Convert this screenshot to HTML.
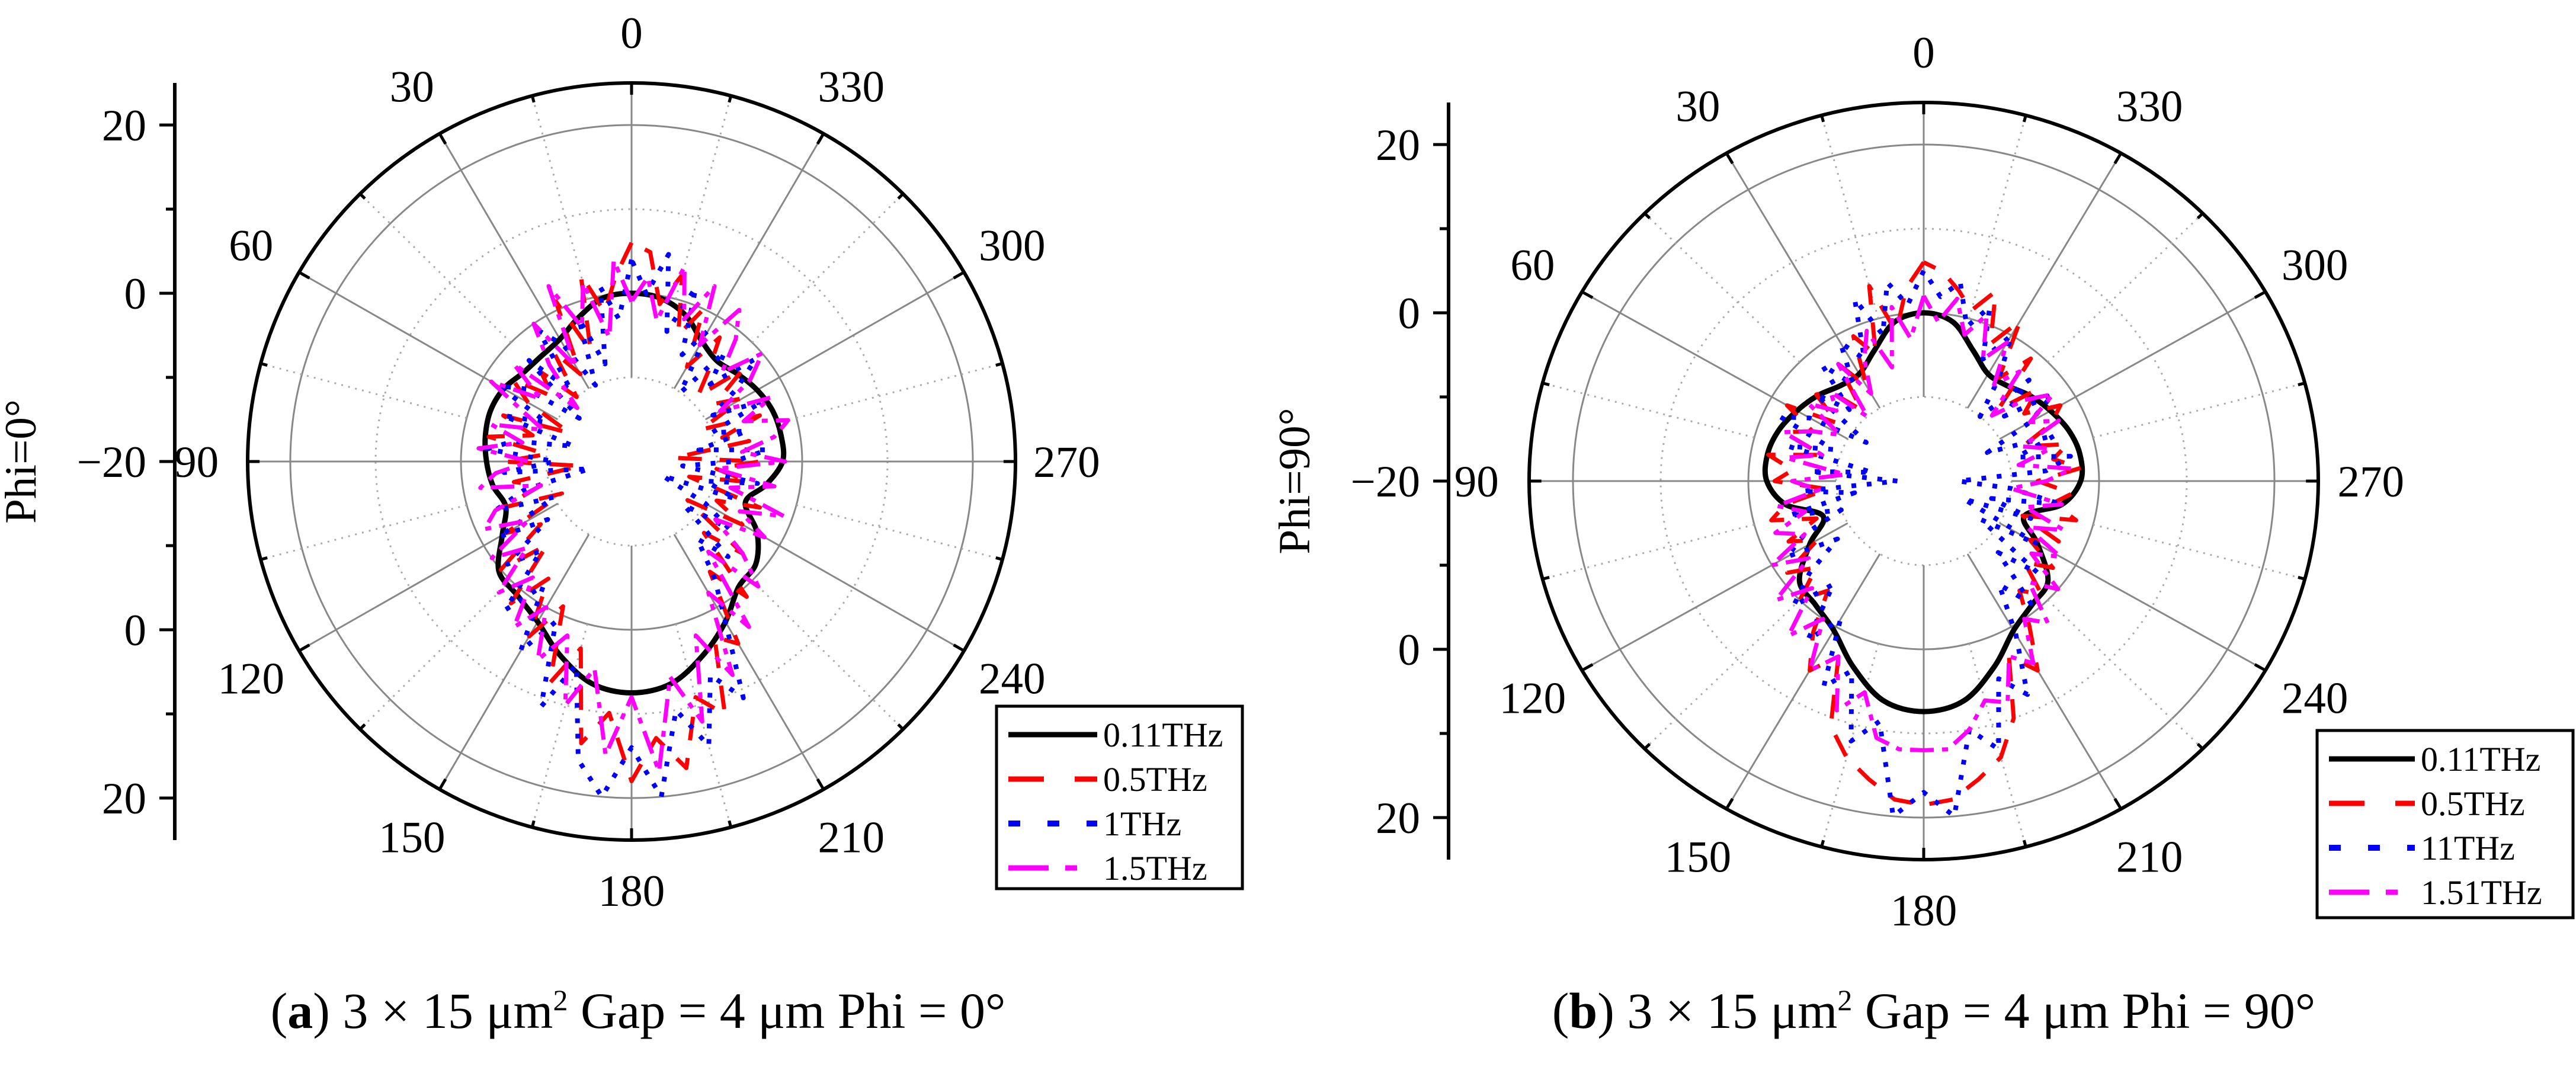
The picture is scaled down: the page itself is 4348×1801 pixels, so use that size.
<!DOCTYPE html>
<html><head><meta charset="utf-8">
<style>
html,body{margin:0;padding:0;background:#fff;}
svg{display:block;}
text{font-family:"Liberation Serif",serif;fill:#000;}
</style></head>
<body>
<svg id="fig" width="4348" height="1801" viewBox="0 0 4348 1801" xmlns="http://www.w3.org/2000/svg">
<g id="pa"></g>
<g id="pb"></g>
<text x="1077" y="1735" font-size="86" text-anchor="middle">(<tspan font-weight="bold">a</tspan>) 3 × 15 μm<tspan font-size="50" dy="-30">2</tspan><tspan dy="30"> Gap = 4 μm Phi = 0°</tspan></text>
<text x="3264" y="1735" font-size="86" text-anchor="middle">(<tspan font-weight="bold">b</tspan>) 3 × 15 μm<tspan font-size="50" dy="-30">2</tspan><tspan dy="30"> Gap = 4 μm Phi = 90°</tspan></text>
</svg>
<script>
// angles (deg, counter-clockwise from top) shared by all series
const anglesCoarse = [0,10,20,30,40,50,60,70,80,90,100,110,120,130,140,150,160,170,180,190,200,210,220,230,240,250,260,270,280,290,300,310,320,330,340,350];
const anglesFine = [0,5,10,15,20,25,30,35,40,45,50,55,60,65,70,75,80,85,90,95,100,105,110,115,120,125,130,135,140,145,150,155,160,165,170,175,180,185,190,195,200,205,210,215,220,225,230,235,240,245,250,255,260,265,270,275,280,285,290,295,300,305,310,315,320,325,330,335,340,345,350,355];
const radialTicks = [-20,0,20];
const angleLabels = [0,30,60,90,120,150,180,210,240,270,300,330];
const seriesNamesA = ["0.11THz","0.5THz","1THz","1.5THz"];
const seriesNamesB = ["0.11THz","0.5THz","11THz","1.51THz"];

const blackA = [0,-0.3,-1.8,-3.2,-3.6,-3.5,-2.7,-2.4,-2.6,-3.0,-3.5,-4.3,-2.5,0.3,0.8,2.0,4.5,6.8,7.5,6.8,4.5,2.0,-0.5,-1.0,-3.0,-5.8,-4.0,-2.3,-2.2,-2.4,-3.0,-3.8,-4.4,-3.5,-1.5,-0.3];
const redA = [6,2,-2,3,-6,1,-8,-4,-10,-5,-8,-3,-6,-12,-4,-8,-3,-10,-5,-14,-6,-9,-4,-11,-3,-7,0,-6,2,-3,4,-1,8,3,14,10,18,13,17,9,12,3,5,-4,1,-8,-3,-12,-5,-9,-4,-13,-6,-10,-5,-15,-6,-9,-4,-11,-5,-8,-3,-9,-6,-2,-7,0,-4,3,-1,5];
const blueA = [4,-3,1,-8,-2,-10,-4,-1,-9,-3,-12,-5,-2,-9,-4,-13,-6,-3,-11,-5,-15,-7,-3,-10,-2,-8,-1,-5,3,-2,6,1,11,5,16,20,14,20,10,15,7,11,2,-3,-8,-4,-12,-6,-10,-16,-7,-11,-5,-14,-8,-4,-12,-6,-10,-3,-9,-5,-1,-7,-3,-10,-2,-6,2,-4,5,0];
const magA = [-1,4,-5,2,-3,3,-7,0,-5,-11,-2,-7,-1,-6,-9,-3,-7,-2,-8,-4,-2,-9,-3,-1,-6,0,-4,2,-2,4,0,6,2,10,5,15,8,17,6,12,2,8,-2,4,-6,1,-3,-8,-2,-6,-1,-8,-3,-10,-2,-7,-3,-1,-6,-2,-8,-3,0,-5,-1,2,-4,3,-2,4,-3,2];

const blackB = [0,-0.8,-3.5,-5.3,-5.2,-4.2,-3.3,-2.4,-1.9,-2.1,-4.0,-7.8,-5.0,-1.5,-0.8,0.5,3.5,6.5,7.4,6.5,3.5,0.5,-0.8,-1.5,-5.0,-7.8,-4.0,-2.1,-1.9,-2.4,-3.3,-4.2,-5.2,-5.3,-3.5,-0.8];
const redB = [6,3,-2,4,-4,-1,-7,-3,-9,-5,-4,-8,-2,-6,-3,-8,-2,-5,-3,-9,-4,-2,-7,-3,-6,-1,-4,0,-3,2,6,3,11,14,16,18,18.5,18,16,14,10,3,6,1,-3,-1,-5,-2,-6,-3,-8,-2,-5,-3,-7,-2,-5,-3,-8,-4,-2,-6,-3,-8,-1,-5,2,-2,4,1,3,5];
const blueB = [5,1,4,-2,3,-4,-1,-6,-2,-8,-4,-12,-5,-2,-9,-4,-14,-7,-17,-6,-12,-4,-10,-5,-2,-8,-3,1,-4,3,-1,7,4,12,9,20,17,20,10,13,5,8,1,-5,-1,-8,-3,-12,-5,-15,-7,-12,-4,-10,-16,-6,-3,-9,-4,-12,-6,-2,-8,-3,-10,-5,0,-4,2,-1,4,2];
const magB = [2,-3,1,-6,-1,-4,-8,-3,-10,-5,-7,-4,-9,-6,-3,-8,-4,-11,-5,-8,-3,-6,-2,-5,0,-4,2,-2,4,0,6,3,9,6,11,12,12,12,10,7,8,3,5,0,2,-3,0,-5,-2,-7,-3,-8,-4,-10,-6,-3,-9,-5,-8,-3,-6,-2,-5,-9,-3,-6,-1,-4,1,-2,2,-1];

const NS="http://www.w3.org/2000/svg";
function mk(parent,tag,attrs){const e=document.createElementNS(NS,tag);for(const k in attrs)e.setAttribute(k,attrs[k]);parent.appendChild(e);return e;}

function drawPanel(g,cfg,names,blk,red,blue,mag){
  const cx=cfg.cx, cy=cfg.cy, sx=cfg.sx, sy=cfg.sy, rmin=-20;
  const px=(ang,v)=>{const r=Math.max(0,v-rmin);const a=ang*Math.PI/180;return [cx-Math.sin(a)*r*sx, cy-Math.cos(a)*r*sy];};
  // rings
  const rings=[[-10,'dot'],[0,'solid'],[10,'dot'],[20,'solid']];
  rings.forEach(([v,st])=>{
    const el=mk(g,'ellipse',{cx:cx,cy:cy,rx:(v-rmin)*sx,ry:(v-rmin)*sy,fill:'none',stroke:st==='dot'?'#aaa':'#888','stroke-width':st==='dot'?3:3,'stroke-dasharray':st==='dot'?'3 9':'none'});
    
    
  });
  // spokes
  for(let a=0;a<360;a+=15){
    const major=a%30===0;
    const p1=px(a,major?-10:0), p2=px(a,25);
    const el=mk(g,'line',{x1:p1[0],y1:p1[1],x2:p2[0],y2:p2[1],stroke:major?'#888':'#aaa','stroke-width':3,'stroke-dasharray':major?'none':'3 9'});
    
    
    const t1=px(a,25), t2=px(a,major?23.6:24.2);
    const tk=mk(g,'line',{x1:t1[0],y1:t1[1],x2:t2[0],y2:t2[1],stroke:'#000','stroke-width':5});
    
    
  }
  const outer=mk(g,'ellipse',{cx:cx,cy:cy,rx:45*sx,ry:45*sy,fill:'none',stroke:'#000','stroke-width':6});
  
  
  // angle labels
  angleLabels.forEach(a=>{
    const p=px(a,a%90===0?(a===0||a===180?31:31):31.5);
    const t=mk(g,'text',{x:p[0],y:p[1]+26,'font-size':75,'text-anchor':'middle'});
    t.textContent=a;
    
    
  });
  // radial axis
  const ax=cfg.axisX;
  const axl=mk(g,'line',{x1:ax,y1:cy-45*sy,x2:ax,y2:cy+45*sy,stroke:'#000','stroke-width':6});
  
  
  [-40,-30,-20,-10,0,10,20,30,40].forEach(d=>{
    const y=cy+d*sy; const major=d%20===0;
    const tk=mk(g,'line',{x1:ax-(major?26:15),y1:y,x2:ax,y2:y,stroke:'#000','stroke-width':5});
    
    
  });
  [-1,1].forEach(sgn=>{
    radialTicks.forEach(v=>{
      if(sgn===1&&v===rmin)return;
      const y=cy+sgn*(v-rmin)*sy;
      const t=mk(g,'text',{x:ax-48,y:y+26,'font-size':75,'text-anchor':'end'});
      t.textContent=v<0?'\u2212'+Math.abs(v):v;
      
      
    });
  });
  const yt=mk(g,'text',{x:0,y:0,'font-size':75,'text-anchor':'middle',transform:`translate(${cfg.titleX},${cy}) rotate(-90)`});
  yt.textContent=cfg.title;
  
  
  // series
  const specs=[
    [red,anglesFine,'#ff0000','40 30',7,'series-0.5thz'],
    [blue,anglesFine,'#0000ff','8 18',8,'series-1thz'],
    [mag,anglesFine,'#ff00ff','40 14 10 14',7,'series-1.5thz'],
  ];
  const addPath=(vals,angs,col,dash,w,name,smooth)=>{
    let d='';
    const n=angs.length;
    for(let i=0;i<=n;i++){
      const p=px(angs[i%n],vals[i%n]);
      d+=(i===0?'M':'L')+p[0].toFixed(1)+' '+p[1].toFixed(1);
    }
    const el=mk(g,'path',{d:d,fill:'none',stroke:col,'stroke-width':w,'stroke-dasharray':dash,'stroke-linejoin':'round'});
    
    
  };
  // black smooth via interpolation on coarse angles (Catmull-Rom)
  (function(){
    const n=anglesCoarse.length; const pts=anglesCoarse.map((a,i)=>px(a,blk[i]));
    let d='M'+pts[0][0]+' '+pts[0][1];
    for(let i=0;i<n;i++){
      const p0=pts[(i-1+n)%n],p1=pts[i],p2=pts[(i+1)%n],p3=pts[(i+2)%n];
      const c1=[p1[0]+(p2[0]-p0[0])/6,p1[1]+(p2[1]-p0[1])/6];
      const c2=[p2[0]-(p3[0]-p1[0])/6,p2[1]-(p3[1]-p1[1])/6];
      d+=`C${c1[0].toFixed(1)} ${c1[1].toFixed(1)} ${c2[0].toFixed(1)} ${c2[1].toFixed(1)} ${p2[0].toFixed(1)} ${p2[1].toFixed(1)}`;
    }
    const el=mk(g,'path',{d:d,fill:'none',stroke:'#000','stroke-width':9});
    
    
  })();
  specs.forEach(s=>addPath(s[0],s[1],s[2],s[3],s[4],s[5]));
  // legend
  const L=cfg.legend;
  const box=mk(g,'rect',{x:L.x,y:L.y,width:L.w,height:L.h,fill:'#fff',stroke:'#000','stroke-width':5});
  
  
  const lstyles=[['#000','none',9],['#ff0000','60 52',9],['#0000ff','20 46',10],['#ff00ff','68 28 20 100',9]];
  names.forEach((nm,i)=>{
    const y=L.y+48+i*L.step;
    const ln=mk(g,'line',{x1:L.x+20,y1:y,x2:L.x+L.lineW,y2:y,stroke:lstyles[i][0],'stroke-width':lstyles[i][2],'stroke-dasharray':lstyles[i][1]});
    
    
    const t=mk(g,'text',{x:L.x+L.lineW+10,y:y+20,'font-size':58});
    t.textContent=nm;
    
    
  });
}
drawPanel(document.getElementById('pa'),{cx:1066,cy:779,sx:14.4,sy:14.2,axisX:295,titleX:60,title:'Phi=0°',legend:{x:1682,y:1192,w:415,h:308,step:75,lineW:170}},seriesNamesA,blackA,redA,blueA,magA);
drawPanel(document.getElementById('pb'),{cx:3247,cy:812,sx:14.8,sy:14.2,axisX:2445,titleX:2210,title:'Phi=90°',legend:{x:3911,y:1233,w:432,h:316,step:75,lineW:165}},seriesNamesB,blackB,redB,blueB,magB);
</script>
</body></html>
